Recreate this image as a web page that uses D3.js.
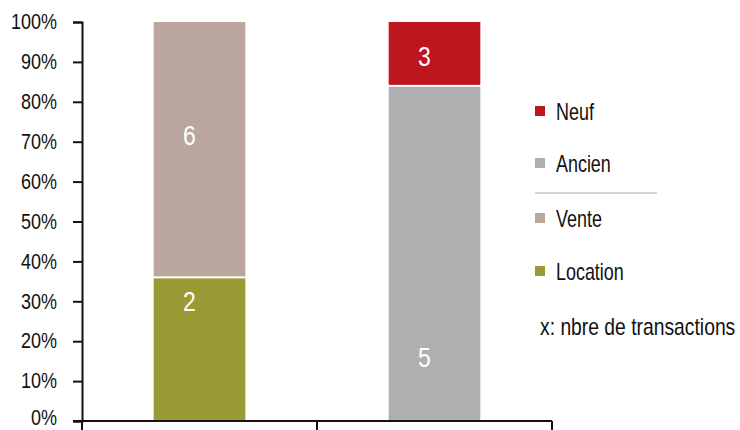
<!DOCTYPE html>
<html>
<head>
<meta charset="utf-8">
<script src="https://cdn.jsdelivr.net/npm/d3@7"></script>
<style>
  body { margin: 0; background: #fff; }
  text { font-family: "Liberation Sans", Arial, sans-serif; }
</style>
</head>
<body>
<div id="chart"></div>
<script>
// categories (two stacked columns) and their segments, bottom to top
const categories = ["Type", "Etat"];
const segNames  = [["Location", "Vente"], ["Ancien", "Neuf"]];
const segShares = [[36, 64], [84, 16]];        // % of column
const segCounts = [[2, 6], [5, 3]];            // nbre de transactions
const segLabelAt = [[30, 71.5], [16, 91.5]];   // where the count sits (% scale)
const yTicks = [0, 10, 20, 30, 40, 50, 60, 70, 80, 90, 100];

const colors = {
  "Location": "#9a9a35",
  "Vente": "#bba69e",
  "Ancien": "#aeafb1",
  "Neuf": "#be161f"
};
const legendOrder = ["Neuf", "Ancien", "Vente", "Location"];

const margin = { top: 22, right: 188, bottom: 9, left: 82 };
const width = 740 - margin.left - margin.right;
const height = 430 - margin.top - margin.bottom;

// no narrow font installed: squeeze Liberation Sans horizontally
const squeeze = 0.78;
function narrow(sel, x, y, sx) {
  sel.attr("x", 0).attr("y", 0)
    .attr("transform", `translate(${x}, ${y}) scale(${sx || squeeze}, 1)`);
}

const svg = d3.select("#chart")
  .append("svg")
    .attr("width", 740)
    .attr("height", 430)
  .append("g")
    .attr("transform", `translate(${margin.left}, ${margin.top})`);

const x = d3.scaleBand()
  .domain(categories)
  .range([0, width])
  .paddingInner(0.61)
  .paddingOuter(0.305);

const y = d3.scaleLinear()
  .domain([0, 100])
  .range([height, 0]);

// stacked segments
categories.forEach((cat, i) => {
  let base = 0;
  segShares[i].forEach((v, j) => {
    const top = base + v;
    const y0 = y(base), y1 = y(top);
    svg.append("rect")
      .attr("x", x(cat))
      .attr("width", x.bandwidth())
      .attr("y", y1 + (j > 0 ? 0 : 1))
      .attr("height", y0 - y1 - 1)
      .attr("fill", colors[segNames[i][j]]);
    base = top;
  });
  segCounts[i].forEach((c, j) => {
    svg.append("text")
      .attr("dy", "0.36em")
      .attr("text-anchor", "middle")
      .attr("fill", "#fff")
      .style("font-size", "27px")
      .text(c)
      .call(narrow, x(cat) + x.bandwidth() / 2 - 10, y(segLabelAt[i][j]), 0.85);
  });
});

// y axis
const yAxis = svg.append("g")
  .call(d3.axisLeft(y).tickValues(yTicks).tickFormat(d => d + "%").tickSize(9).tickPadding(16));
yAxis.select(".domain").attr("stroke", "#111").attr("stroke-width", 2);
yAxis.selectAll(".tick line").attr("stroke", "#111").attr("stroke-width", 2);
yAxis.selectAll(".tick text")
  .style("font-size", "22.5px")
  .attr("fill", "#111")
  .attr("dy", "0.3em")
  .each(function(d) {
    // keep the bottom label inside the frame
    d3.select(this).call(narrow, -25, d === 0 ? -3 : 0, 0.8);
  });

// x axis: line with ticks at band boundaries
const xAxis = svg.append("g")
  .attr("transform", `translate(0, ${height})`);
xAxis.append("line")
  .attr("x1", -9).attr("x2", width)
  .attr("stroke", "#111").attr("stroke-width", 2);
const bounds = [0].concat(categories.map(c => x(c) + x.bandwidth() + x.step() * x.paddingInner() / 2));
bounds[bounds.length - 1] = width;
xAxis.selectAll(".xt")
  .data(bounds)
  .enter()
  .append("line")
    .attr("x1", d => d).attr("x2", d => d)
    .attr("y1", 0).attr("y2", 9)
    .attr("stroke", "#111").attr("stroke-width", 2);

// legend
const legend = svg.append("g")
  .attr("transform", `translate(${width - 17}, 0)`);
const legendY = { "Neuf": 90, "Ancien": 142, "Vente": 197, "Location": 250 };
legendOrder.forEach(name => {
  const g = legend.append("g").attr("transform", `translate(0, ${legendY[name]})`);
  g.append("rect")
    .attr("x", 0).attr("y", -6)
    .attr("width", 10).attr("height", 10)
    .attr("fill", colors[name]);
  g.append("text")
    .attr("dy", "0.34em")
    .style("font-size", "23px")
    .attr("fill", "#111")
    .text(name)
    .call(narrow, 21, 0);
});
legend.append("line")
  .attr("x1", 0).attr("x2", 122)
  .attr("y1", 171).attr("y2", 171)
  .attr("stroke", "#d3d6d6").attr("stroke-width", 2);
legend.append("text")
  .attr("dy", "0.34em")
  .style("font-size", "23px")
  .attr("fill", "#111")
  .text("x: nbre de transactions")
  .call(narrow, 5, 305, 0.84);
</script>
</body>
</html>
